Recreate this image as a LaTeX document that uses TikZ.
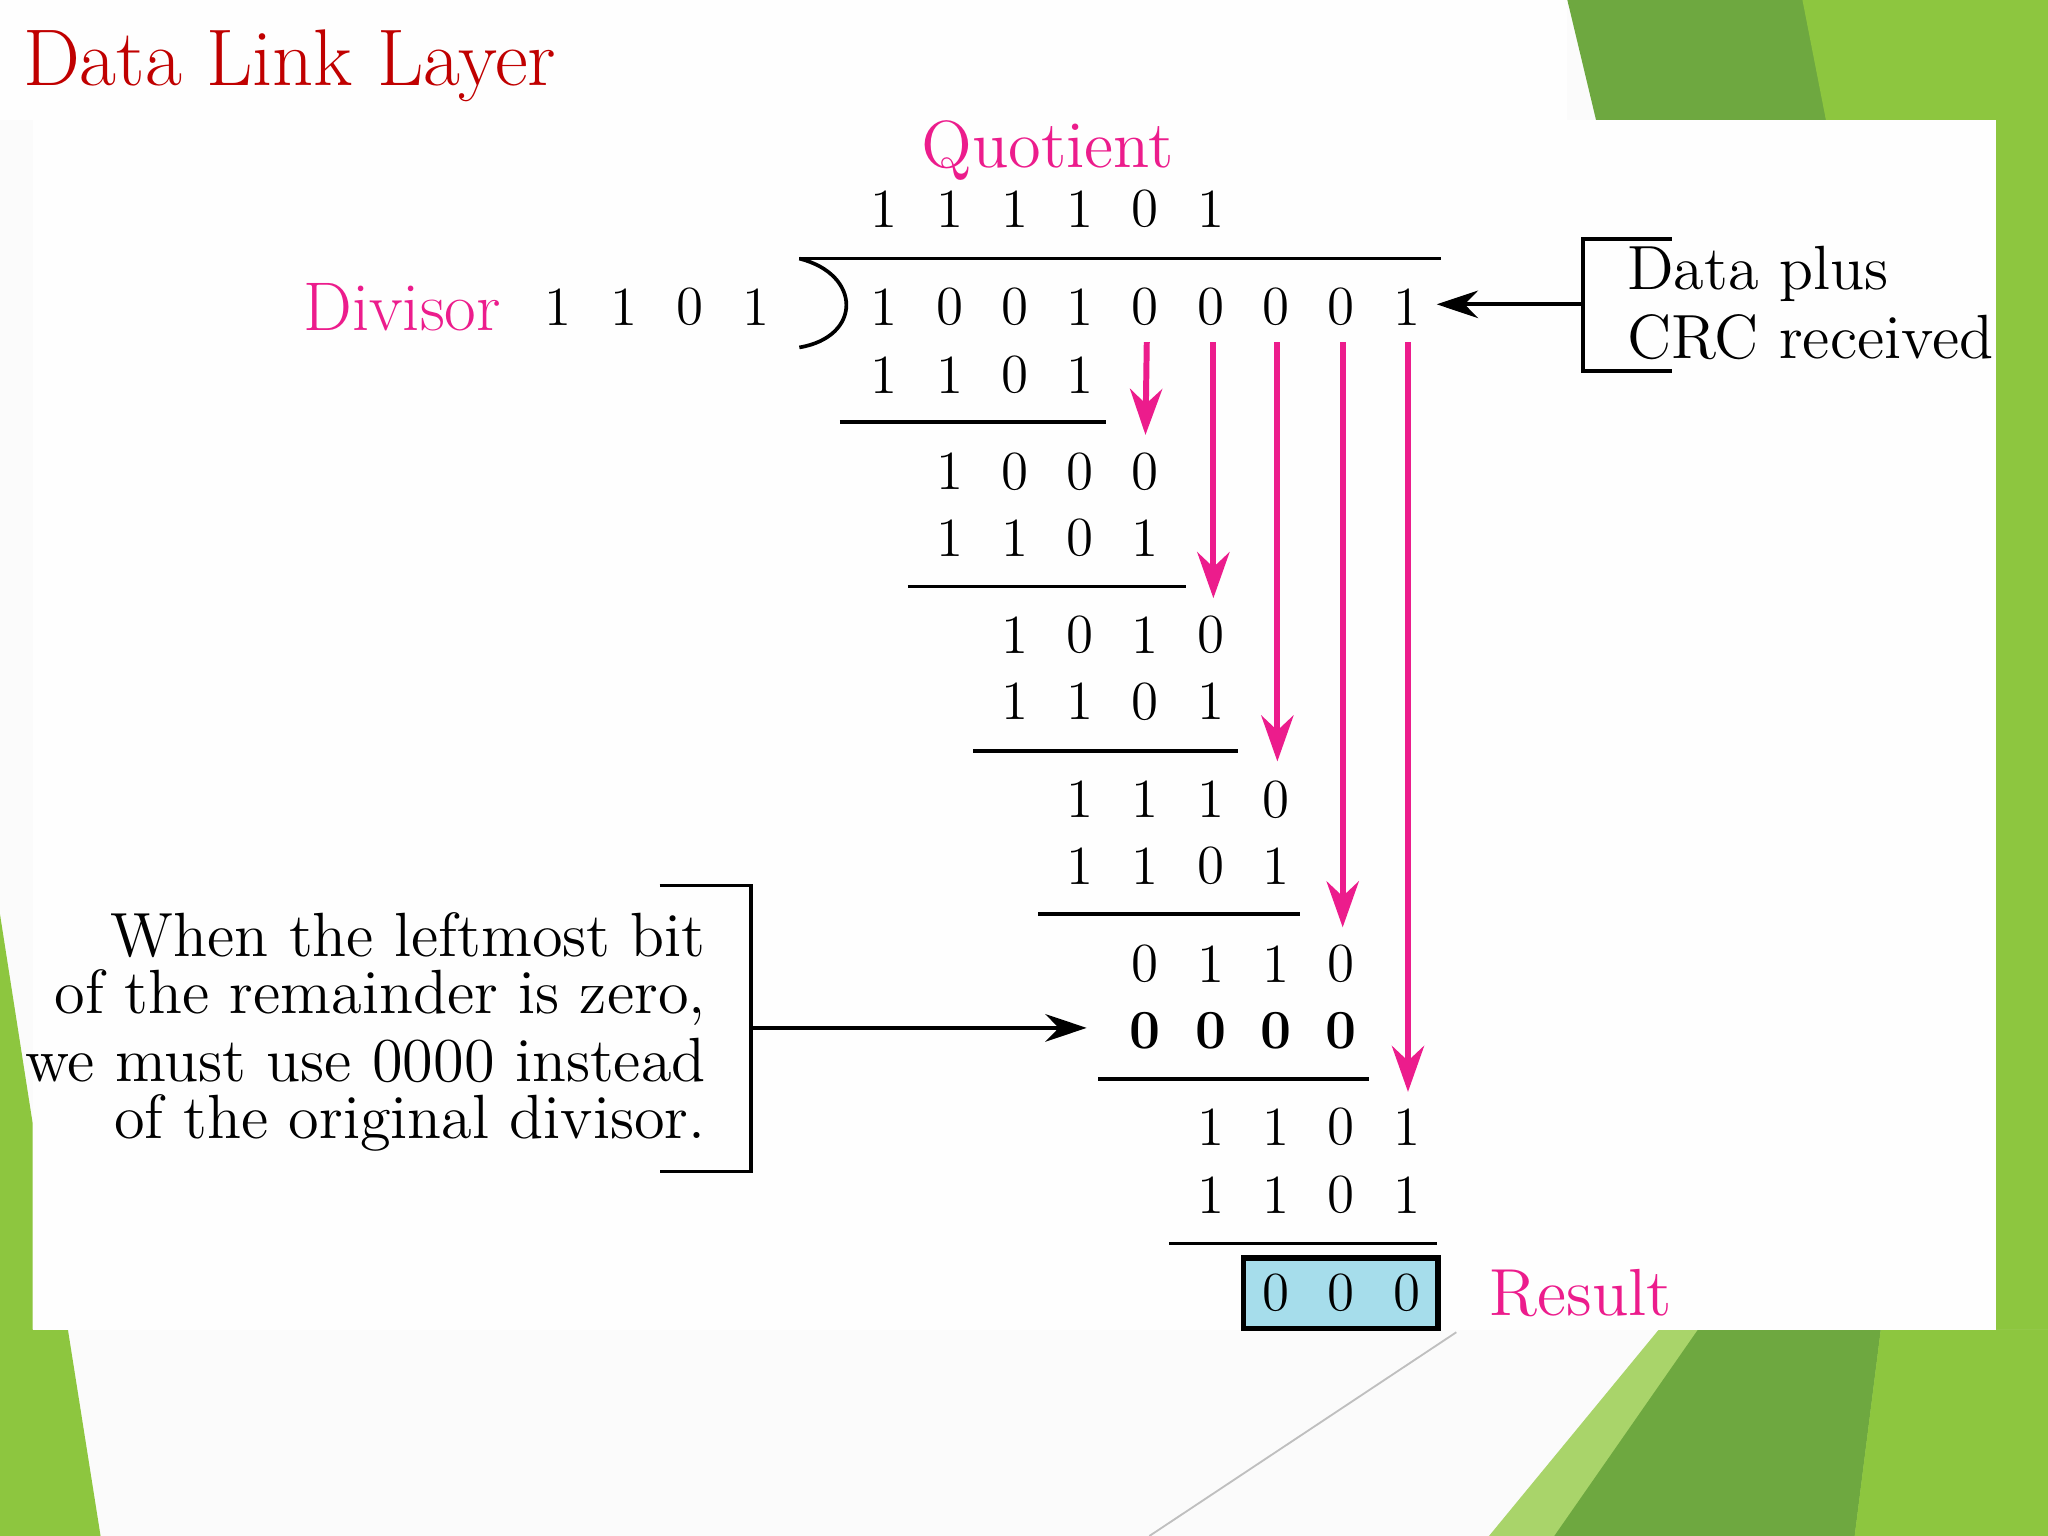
\documentclass[tikz,border=0pt]{standalone}
\usetikzlibrary{arrows.meta}
\definecolor{mag}{HTML}{EC1C8C}
\definecolor{dred}{HTML}{C00000}
\definecolor{gA}{HTML}{8DC63F}
\definecolor{gB}{HTML}{6EA840}
\definecolor{gC}{HTML}{A9D46A}
\definecolor{rbox}{HTML}{A6DDEB}
\tikzset{d/.style={font=\fontsize{12}{14}\selectfont,inner sep=0pt},
 bd/.style={d,font=\fontsize{12}{14}\selectfont\bfseries},
 ml/.style={mag,font=\fontsize{14.5}{17}\selectfont,inner sep=0pt},
 tx/.style={font=\fontsize{13.6}{16}\selectfont,inner sep=0pt},
 marr/.style={mag,line width=1.3pt,-{Stealth[length=10pt,width=7pt]}},
 karr/.style={black,line width=0.8pt,-{Stealth[length=9pt,width=6pt]}},
 rule/.style={black,line width=0.8pt}}
\begin{document}
\begin{tikzpicture}[x=0.01cm,y=-0.01cm]
\useasboundingbox (0,0) rectangle (1568,1176);
% background
\fill[white!97!gray] (0,0) rectangle (1568,1176);
\fill[gB] (1200,0) -- (1568,0) -- (1568,92) -- (1222,92) -- cycle;
\fill[gA] (1380,0) -- (1568,0) -- (1568,92) -- (1398,92) -- cycle;
\fill[gA] (1528,0) rectangle (1568,1176);
\fill[gA] (0,700) -- (25,860) -- (25,1018) -- (52,1018) -- (77,1176) -- (0,1176) -- cycle;
\fill[gC] (1140,1176) -- (1270,1018) -- (1568,1018) -- (1568,1176) -- cycle;
\fill[gB] (1190,1176) -- (1300,1018) -- (1440,1018) -- (1420,1176) -- cycle;
\fill[gA] (1420,1176) -- (1440,1018) -- (1568,1018) -- (1568,1176) -- cycle;
\draw[gray!50,line width=0.4pt] (1115,1020) -- (880,1176);
\fill[white!99!gray] (25,92) rectangle (1528,1018);
\fill[white!99!gray] (0,0) rectangle (1200,92);
% title
\node[anchor=west,dred,font=\fontsize{17.5}{21}\selectfont,inner sep=0pt] (title) at (17,50) {Data Link Layer};
% labels
\node[ml] (q) at (802,115) {Quotient};
\node[ml,font=\fontsize{15}{17}\selectfont] (dv) at (308,235) {Divisor};
\node[ml,anchor=west] (res) at (1140,990) {Result};
% quotient
\foreach \b [count=\i from 0] in {1,1,1,1,0,1} \node[d] at (677+50*\i,160) {\b};
% divisor
\foreach \b [count=\i from 0] in {1,1,0,1} \node[d] at (427+50.5*\i,235) {\b};
% dividend
\foreach \b [count=\i from 0] in {1,0,0,1,0,0,0,0,1} \node[d] (dd\i) at (677+50*\i,235) {\b};
\draw[rule] (612,198) -- (1103,198);
\draw[rule] (612,198) .. controls (660,210) and (660,258) .. (612,266);
% rows
\newcommand{\rowd}[3]{\foreach \b [count=\i from 0] in {#3} \node[d] at (#1+50*\i,#2) {\b};}
\rowd{677}{287}{1,1,0,1}
\draw[rule] (643,323) -- (847,323);
\rowd{727}{361}{1,0,0,0}
\rowd{727}{412}{1,1,0,1}
\draw[rule] (695,449) -- (908,449);
\rowd{777}{486}{1,0,1,0}
\rowd{777}{537}{1,1,0,1}
\draw[rule] (745,575) -- (948,575);
\rowd{827}{612}{1,1,1,0}
\rowd{827}{663}{1,1,0,1}
\draw[rule] (795,700) -- (995,700);
\rowd{877}{738}{0,1,1,0}
\foreach \i in {0,...,3} \node[bd] at (877+50*\i,789) {0};
\coordinate (zz) at (832,787);
\draw[rule] (841,826) -- (1048,826);
\rowd{927}{863}{1,1,0,1}
\rowd{927}{915}{1,1,0,1}
\draw[rule] (895,952) -- (1100,952);
\node[draw,line width=1.2pt,fill=rbox,minimum width=1.49cm,minimum height=0.54cm,inner sep=0pt] (rb) at (1026.5,990) {};
\rowd{977}{990}{0,0,0}
% magenta arrows
\coordinate (a4) at (877,333);
\coordinate (a5) at (929,458);
\coordinate (a6) at (978,583);
\coordinate (a7) at (1028,710);
\coordinate (a8) at (1078,836);
\draw[marr] (878,262) -- (a4);
\draw[marr] (929,262) -- (a5);
\draw[marr] (978,262) -- (a6);
\draw[marr] (1028,262) -- (a7);
\draw[marr] (1078,262) -- (a8);
% data plus CRC
\draw[rule] (1280,183) -- (1212,183) -- (1212,284) -- (1280,284);
\coordinate (br) at (1212,233);
\coordinate (dte) at (1100,233);
\draw[karr] (br) -- (dte);
\node[anchor=west,tx] (t1) at (1245,210) {Data plus};
\node[anchor=west,tx] (t2) at (1245,258) {CRC received};
% left note
\node[anchor=east,tx] (n1) at (541,716) {When the leftmost bit};
\node[anchor=east,tx] (n2) at (541,764) {of the remainder is zero,};
\node[anchor=east,tx] (n3) at (541,812) {we must use 0000 instead};
\node[anchor=east,tx] (n4) at (541,860) {of the original divisor.};
\draw[rule] (505,678) -- (575,678) -- (575,897) -- (505,897);
\coordinate (lb) at (575,787);
\draw[karr] (lb) -- (zz);
\end{tikzpicture}
\end{document}
